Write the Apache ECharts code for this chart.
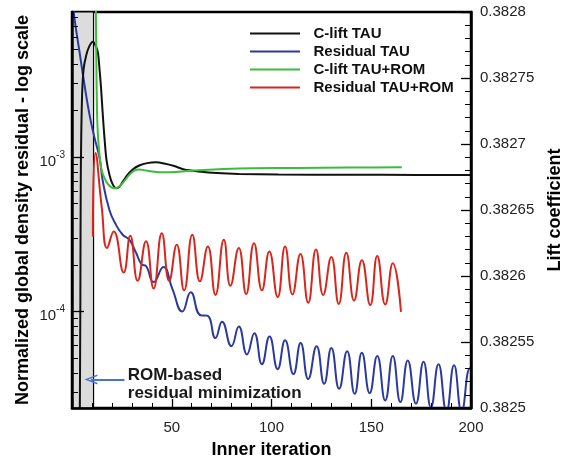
<!DOCTYPE html>
<html><head><meta charset="utf-8">
<script src="https://cdn.jsdelivr.net/npm/echarts@6/dist/echarts.min.js"></script>
<style>html,body{margin:0;padding:0;background:#fff}#c{width:572px;height:464px}</style>
</head><body><div id="c"></div>
<script>
// ---------- data ----------
const residualTauIter = [0.8,1.35,3.84,6.33,8.82,11.31,13.8,15.4,18.8,22.1,25.4,28.7,32.1,34.9,37.1,40.9,45.8,50.3,55.3,59.5,64.5,67.8,71.9,75.2,79.9,83.6,87.7,91.4,95.2,99.0,103.1,106.8,111.0,114.6,118.4,122.6,126.4,130.0,133.9,137.9,141.7,145.3,149.2,153.0,157.0,160.8,164.6,168.3,172.4,176.2,179.9,183.7,187.7,191.5,195.3,199.5,201.5];
const residualTau = [9.0e-3,7.71e-3,4.73e-3,2.90e-3,1.87e-3,1.33e-3,9.90e-4,7.03e-4,4.53e-4,3.64e-4,3.14e-4,2.92e-4,2.40e-4,2.02e-4,1.97e-4,1.55e-4,1.94e-4,1.40e-4,1.00e-4,1.33e-4,9.46e-5,9.40e-5,6.73e-5,8.59e-5,5.96e-5,7.98e-5,5.27e-5,7.24e-5,4.55e-5,6.89e-5,4.23e-5,6.50e-5,3.93e-5,6.25e-5,3.65e-5,5.96e-5,3.40e-5,5.81e-5,3.16e-5,5.53e-5,2.93e-5,5.40e-5,2.96e-5,5.14e-5,2.65e-5,5.14e-5,2.59e-5,4.82e-5,2.53e-5,4.73e-5,2.39e-5,4.55e-5,2.25e-5,4.48e-5,2.25e-5,4.28e-5,3.56e-5];

const residualRomIter = [10.46,11.8,14.9,17.6,20.9,25.9,29.2,32.9,37.1,40.9,45.0,48.7,52.5,56.2,60.3,64.1,68.1,71.9,76.1,79.4,83.6,87.3,91.2,95.2,98.9,103.1,106.8,110.5,114.5,118.4,122.3,125.9,130.0,133.7,137.5,141.4,145.3,149.5,153.0,157.0,160.8,164.9];
const residualRom = [3.06e-4,1.064e-3,4.74e-4,2.58e-4,3.30e-4,1.79e-4,3.10e-4,1.58e-4,2.85e-4,1.41e-4,3.21e-4,1.58e-4,2.71e-4,1.37e-4,3.14e-4,1.57e-4,2.64e-4,1.28e-4,2.92e-4,1.47e-4,2.58e-4,1.30e-4,2.77e-4,1.37e-4,2.45e-4,1.24e-4,2.64e-4,1.29e-4,2.36e-4,1.14e-4,2.52e-4,1.28e-4,2.25e-4,1.12e-4,2.40e-4,1.18e-4,2.15e-4,1.10e-4,2.29e-4,1.11e-4,2.05e-4,9.93e-5];

const cliftTauIter = [3.9,4.2,4.4,5.0,5.8,7.1,8.6,10.5,11.8,13.0,13.8,14.6,15.4,16.3,17.3,18.8,20.3,22.1,23.8,25.4,27.8,30.4,33.7,37.7,42.1,46.2,51.2,56.2,63.6,72.6,83.6,103.5,138.4,173.2,200];
const cliftTau = [0.38249,0.3825845,0.3826743,0.3827342,0.3827566,0.3827671,0.3827738,0.3827775,0.3827746,0.3827691,0.3827566,0.3827416,0.3827229,0.3827042,0.3826878,0.3826766,0.3826698,0.3826665,0.3826676,0.3826713,0.3826766,0.3826807,0.3826837,0.3826855,0.3826861,0.3826852,0.3826833,0.3826807,0.3826792,0.382678,0.3826773,0.3826769,0.3826767,0.3826766,0.3826766];

const cliftRomIter = [11.8,11.96,12.2,12.5,13.0,13.8,14.6,15.8,17.9,19.8,21.5,23.8,26.3,28.7,31.2,33.7,37.2,41.2,46.2,53.7,61.1,76.1,91.0,113.4,138.4,165.3];
const cliftRom = [0.3828052,0.3828,0.3827641,0.3827267,0.3827065,0.3826915,0.3826818,0.3826758,0.3826698,0.3826672,0.3826665,0.382668,0.3826721,0.3826766,0.3826799,0.3826807,0.3826799,0.382679,0.3826786,0.382679,0.3826799,0.382681,0.3826816,0.3826819,0.3826822,0.3826823];

const seriesNames = ['C-lift TAU','Residual TAU','C-lift TAU+ROM','Residual TAU+ROM'];
const leftTickExponents = [-4, -3];
const xTicks = {min: 0, max: 200, interval: 50};
const rightTicks = {min: 0.3825, max: 0.3828, interval: 0.00005};
const logRange = [2.37e-5, 8.71e-3];
const romEndIter = 10.8;

// ---------- annotation placement ----------
const arrowY = 3.63e-5;
const textY = 3.38e-5;
const arrowFrom = 26.3, arrowTo = 9.5, textX = 27.7;

const zip = (a, b) => a.map((v, i) => [v, b[i]]);
const FONT = '"Liberation Sans", Arial, Helvetica, sans-serif';
const lmin = Math.log10(logRange[0]), lmax = Math.log10(logRange[1]);
const minorLog = [];
for (let d = -5; d <= -3; d++) for (let m = 2; m <= 9; m++) {
  const v = Math.log10(m) + d;
  if (v > lmin && v < lmax) minorLog.push(v);
}

const chart = echarts.init(document.getElementById('c'), null, {renderer: 'canvas'});
const axisLineStyle = {color: '#000', width: 2.5};
chart.setOption({
  animation: false,
  backgroundColor: '#fff',
  textStyle: {fontFamily: FONT},
  grid: {left: 72, right: 96, top: 12, bottom: 50, show: true, borderColor: '#000', borderWidth: 2.5, backgroundColor: 'transparent'},
  legend: {
    data: seriesNames, orient: 'vertical', left: 245, top: 20,
    icon: 'path://M0,0 L100,0 L100,4 L0,4 Z',
    itemWidth: 55, itemHeight: 2, itemGap: 1,
    textStyle: {fontFamily: FONT, fontSize: 15, fontWeight: 'bold', color: '#111', padding: [0, 0, 0, 6], lineHeight: 17}
  },
  xAxis: {
    type: 'value', min: xTicks.min, max: xTicks.max, interval: xTicks.interval, z: 10,
    name: 'Inner iteration', nameLocation: 'middle', nameGap: 33,
    nameTextStyle: {fontFamily: FONT, fontSize: 18, fontWeight: 'bold', color: '#000'},
    axisLine: {show: true, lineStyle: axisLineStyle},
    axisTick: {show: true, inside: true, length: 9, lineStyle: {color: '#000', width: 1.3}},
    minorTick: {show: true, splitNumber: 5, length: 5, lineStyle: {color: '#000', width: 1}},
    axisLabel: {showMinLabel: false, fontSize: 15, color: '#222', margin: 12},
    splitLine: {show: false}
  },
  yAxis: [
    { // data axis (log)
      type: 'log', logBase: 10, min: logRange[0], max: logRange[1], position: 'left',
      name: 'Normalized global density residual - log scale', nameLocation: 'middle', nameGap: 40,
      nameRotate: 90,
      nameTextStyle: {fontFamily: FONT, fontSize: 18, fontWeight: 'bold', color: '#000'},
      axisLine: {show: false}, axisTick: {show: false}, axisLabel: {show: false}, splitLine: {show: false}
    },
    { // right lift axis
      type: 'value', min: rightTicks.min, max: rightTicks.max, interval: rightTicks.interval, position: 'right', z: 10,
      name: 'Lift coefficient', nameLocation: 'middle', nameGap: 75, nameRotate: 90,
      nameTextStyle: {fontFamily: FONT, fontSize: 18, fontWeight: 'bold', color: '#000'},
      axisLine: {show: true, lineStyle: axisLineStyle},
      axisTick: {show: true, inside: true, length: 10, lineStyle: {color: '#000', width: 1.3}},
      minorTick: {show: true, splitNumber: 5, length: 6, lineStyle: {color: '#000', width: 1}},
      axisLabel: {fontSize: 15, color: '#222', margin: 9, padding: [4, 0, 0, 0], formatter: v => String(+v.toFixed(5))},
      splitLine: {show: false}
    },
    { // left major ticks + labels (log10 space)
      type: 'value', min: lmin, max: lmax, position: 'left', z: 10,
      axisLine: {show: true, lineStyle: axisLineStyle},
      axisTick: {show: true, inside: true, length: 12, customValues: leftTickExponents, lineStyle: {color: '#000', width: 1.3}},
      axisLabel: {
        customValues: leftTickExponents, margin: 7, color: '#222',
        formatter: v => '{b|10}{s|' + Math.round(v) + '}',
        rich: {b: {fontSize: 15, color: '#222', fontFamily: FONT, padding: [9, 0, 0, 0]},
               s: {fontSize: 10, color: '#222', fontFamily: FONT, padding: [0, 0, 4, 0]}}
      },
      splitLine: {show: false}
    },
    { // left minor ticks
      type: 'value', min: lmin, max: lmax, position: 'left', z: 10,
      axisLine: {show: false},
      axisTick: {show: true, inside: true, length: 6, customValues: minorLog, lineStyle: {color: '#000', width: 1}},
      axisLabel: {show: false},
      splitLine: {show: false}
    }
  ],
  series: [
    {
      name: 'annot', type: 'line', data: [], yAxisIndex: 0, z: 1, silent: true,
      markArea: {silent: true, itemStyle: {color: '#dcdcdc', borderColor: '#000', borderWidth: 1.2},
        data: [[{xAxis: xTicks.min}, {xAxis: romEndIter}]]},
      markLine: {silent: true, symbol: ['none', 'path://M5,0 L10,10 L8.4,10 L5,2.8 L1.6,10 L0,10 Z'], symbolSize: [10, 13],
        lineStyle: {color: '#4a72c6', width: 2, type: 'solid'}, label: {show: false},
        data: [[{coord: [arrowFrom, arrowY]}, {coord: [arrowTo, arrowY]}]]},
      markPoint: {silent: true, symbol: 'circle', symbolSize: 1, itemStyle: {color: 'rgba(0,0,0,0)'},
        label: {show: true, position: 'right', distance: 0, formatter: 'ROM-based\nresidual minimization',
          fontFamily: FONT, fontSize: 17, fontWeight: 'bold', lineHeight: 18, color: '#1a1a1a', align: 'left'},
        data: [{coord: [textX, textY]}]}
    },
    {name: 'Residual TAU', type: 'line', yAxisIndex: 0, z: 3, symbol: 'none', showSymbol: false, smooth: 0.5,
      lineStyle: {color: '#2b3a9e', width: 2}, itemStyle: {color: '#2b3a9e'}, data: zip(residualTauIter, residualTau)},
    {name: 'Residual TAU+ROM', type: 'line', yAxisIndex: 0, z: 3, symbol: 'none', showSymbol: false, smooth: 0.5,
      lineStyle: {color: '#d9261c', width: 2}, itemStyle: {color: '#d9261c'}, data: zip(residualRomIter, residualRom)},
    {name: 'C-lift TAU', type: 'line', yAxisIndex: 1, z: 3, symbol: 'none', showSymbol: false, smooth: 0.3,
      lineStyle: {color: '#111', width: 2}, itemStyle: {color: '#111'}, data: zip(cliftTauIter, cliftTau)},
    {name: 'C-lift TAU+ROM', type: 'line', yAxisIndex: 1, z: 3, symbol: 'none', showSymbol: false, smooth: 0.3,
      lineStyle: {color: '#3dbb3d', width: 2}, itemStyle: {color: '#3dbb3d'}, data: zip(cliftRomIter, cliftRom)}
  ]
});
</script></body></html>
